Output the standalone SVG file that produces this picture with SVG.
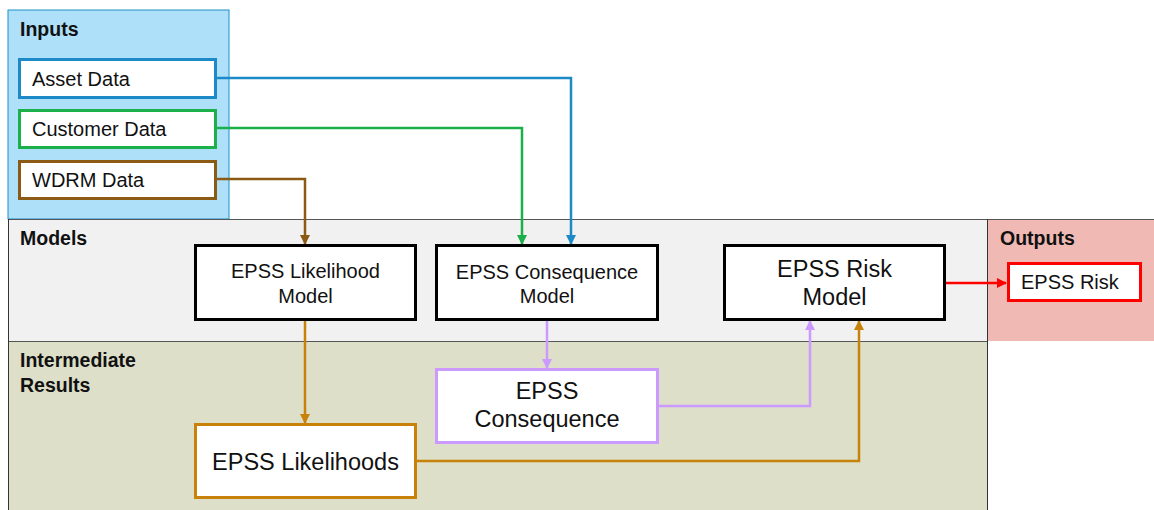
<svg xmlns="http://www.w3.org/2000/svg" width="1154" height="510" viewBox="0 0 1154 510">
  <style>
    text { font-family: "Liberation Sans", Arial, sans-serif; fill: #111; }
    .hdr { font-weight: bold; font-size: 19.5px; }
    .lbl { font-size: 20px; }
    .big { font-size: 23.5px; }
    .box { fill: #fff; stroke-width: 3; }
    .conn { fill: none; stroke-width: 2.5; }
  </style>
  <defs>
    <marker id="aBlue" viewBox="0 0 10 10" refX="9" refY="5" markerWidth="4" markerHeight="4" orient="auto" markerUnits="strokeWidth"><path d="M0,0 L10,5 L0,10 Z" fill="#1c8ac6"/></marker>
    <marker id="aGreen" viewBox="0 0 10 10" refX="9" refY="5" markerWidth="4" markerHeight="4" orient="auto" markerUnits="strokeWidth"><path d="M0,0 L10,5 L0,10 Z" fill="#1bb04a"/></marker>
    <marker id="aBrown" viewBox="0 0 10 10" refX="9" refY="5" markerWidth="4" markerHeight="4" orient="auto" markerUnits="strokeWidth"><path d="M0,0 L10,5 L0,10 Z" fill="#8b5a14"/></marker>
    <marker id="aOrange" viewBox="0 0 10 10" refX="9" refY="5" markerWidth="4" markerHeight="4" orient="auto" markerUnits="strokeWidth"><path d="M0,0 L10,5 L0,10 Z" fill="#c8820a"/></marker>
    <marker id="aLav" viewBox="0 0 10 10" refX="9" refY="5" markerWidth="4" markerHeight="4" orient="auto" markerUnits="strokeWidth"><path d="M0,0 L10,5 L0,10 Z" fill="#cc99ff"/></marker>
    <marker id="aRed" viewBox="0 0 10 10" refX="9" refY="5" markerWidth="4" markerHeight="4" orient="auto" markerUnits="strokeWidth"><path d="M0,0 L10,5 L0,10 Z" fill="#ff0000"/></marker>
  </defs>

  <rect width="1154" height="510" fill="#ffffff"/>

  <!-- swimlane backgrounds -->
  <g id="lanes">
    <rect x="8" y="10" width="221" height="209" fill="#aee0f9" stroke="#1e90c8" stroke-width="1"/>
    <rect x="8" y="219" width="1146" height="122" fill="#f1f1f1"/>
    <rect x="987" y="219" width="167" height="122" fill="#f0b9b3"/>
    <rect x="8" y="341" width="979" height="169" fill="#dddfc9"/>
    <line x1="8" y1="219.5" x2="1154" y2="219.5" stroke="#555" stroke-width="1.2"/>
    <line x1="8" y1="341.5" x2="987" y2="341.5" stroke="#555" stroke-width="1.2"/>
    <line x1="8.5" y1="219" x2="8.5" y2="510" stroke="#333" stroke-width="1"/>
    <line x1="987.5" y1="219" x2="987.5" y2="510" stroke="#333" stroke-width="1"/>
    <text class="hdr" x="20" y="36">Inputs</text>
    <text class="hdr" x="20" y="245">Models</text>
    <text class="hdr" x="1000" y="245">Outputs</text>
    <text class="hdr" x="20" y="367">Intermediate</text>
    <text class="hdr" x="20" y="392">Results</text>
  </g>

  <!-- connectors -->
  <g id="connectors">
    <polyline class="conn" stroke="#1c8ac6" points="215,78 571,78 571,244" marker-end="url(#aBlue)"/>
    <polyline class="conn" stroke="#1bb04a" points="215,128 522,128 522,244" marker-end="url(#aGreen)"/>
    <polyline class="conn" stroke="#8b5a14" points="215,179 305,179 305,244" marker-end="url(#aBrown)"/>
    <polyline class="conn" stroke="#c8820a" points="305,319 305,423" marker-end="url(#aOrange)"/>
    <polyline class="conn" stroke="#cc99ff" points="547,320 547,368" marker-end="url(#aLav)"/>
    <polyline class="conn" stroke="#cc99ff" points="657,406 810,406 810,321" marker-end="url(#aLav)"/>
    <polyline class="conn" stroke="#c8820a" points="415,461 859,461 859,321" marker-end="url(#aOrange)"/>
    <polyline class="conn" stroke="#ff0000" points="944,283 1006,283" marker-end="url(#aRed)"/>
  </g>

  <g id="asset-data">
    <rect class="box" x="19.5" y="59.5" width="196" height="38" stroke="#1c8ac6"/>
    <text class="lbl" x="32" y="86">Asset Data</text>
  </g>
  <g id="customer-data">
    <rect class="box" x="19.5" y="110.5" width="196" height="37" stroke="#1bb04a"/>
    <text class="lbl" x="32" y="135.5">Customer Data</text>
  </g>
  <g id="wdrm-data">
    <rect class="box" x="19.5" y="161.5" width="196" height="37" stroke="#8b5a14"/>
    <text class="lbl" x="32" y="186.5">WDRM Data</text>
  </g>

  <g id="likelihood-model">
    <rect class="box" x="195.5" y="245.5" width="220" height="74" stroke="#000"/>
    <text class="lbl" x="305.5" y="278" text-anchor="middle">EPSS Likelihood</text>
    <text class="lbl" x="305.5" y="302.5" text-anchor="middle">Model</text>
  </g>
  <g id="consequence-model">
    <rect class="box" x="436.5" y="245.5" width="221" height="74" stroke="#000"/>
    <text class="lbl" x="547" y="278.5" text-anchor="middle">EPSS Consequence</text>
    <text class="lbl" x="547" y="303" text-anchor="middle">Model</text>
  </g>
  <g id="risk-model">
    <rect class="box" x="724.5" y="245.5" width="220" height="74" stroke="#000"/>
    <text class="big" x="834.5" y="277" text-anchor="middle">EPSS Risk</text>
    <text class="big" x="834.5" y="305" text-anchor="middle">Model</text>
  </g>
  <g id="epss-risk">
    <rect class="box" x="1008.5" y="263.5" width="132" height="37" stroke="#ff0000"/>
    <text class="lbl" x="1021" y="289">EPSS Risk</text>
  </g>
  <g id="epss-consequence">
    <rect class="box" x="436.5" y="369.5" width="221" height="73" stroke="#cc99ff"/>
    <text class="big" x="547" y="399" text-anchor="middle">EPSS</text>
    <text class="big" x="547" y="427" text-anchor="middle">Consequence</text>
  </g>
  <g id="epss-likelihoods">
    <rect class="box" x="195.5" y="424.5" width="220" height="73" stroke="#c8820a"/>
    <text class="big" x="305.5" y="470" text-anchor="middle">EPSS Likelihoods</text>
  </g>
</svg>
